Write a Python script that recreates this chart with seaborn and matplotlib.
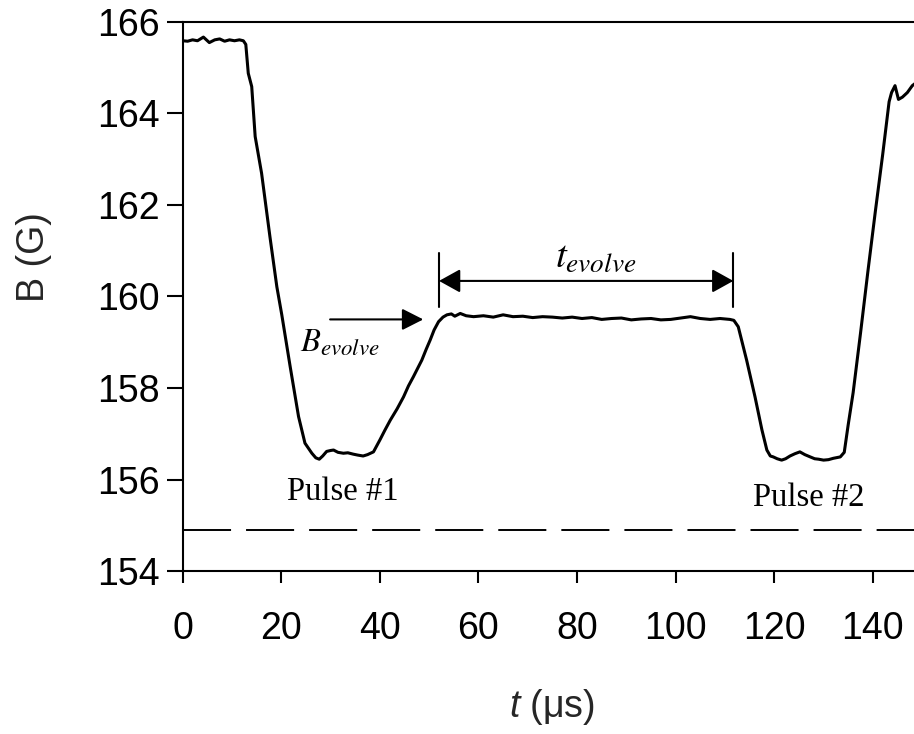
import numpy as np
import pandas as pd
import seaborn as sns
import matplotlib.pyplot as plt

# Measured magnetic field trace B(t)
t_us = [0.0, 1.0, 2.0, 3.0, 4.2, 5.4, 6.5, 7.5, 8.5, 9.5, 10.5, 11.5, 12.3, 12.8,
        13.3, 14.0, 14.7, 16.0, 17.7, 19.1, 20.1, 21.8, 23.5, 24.8, 26.2, 27.0,
        27.7, 28.4, 29.2, 30.0, 30.6, 31.5, 32.6, 33.5, 34.6, 35.5, 36.6, 37.5,
        38.7, 40.0, 41.0, 42.1, 43.5, 44.8, 45.8, 46.8, 47.6, 48.5, 49.4, 50.2,
        51.0, 51.9, 52.8, 53.6, 54.5, 55.2, 56.3, 57.5, 59.0, 61.0, 63.0, 65.0,
        67.0, 69.0, 71.0, 73.0, 75.0, 77.0, 79.0, 81.0, 83.0, 85.0, 87.0, 89.0,
        91.0, 93.0, 95.0, 97.0, 99.0, 101.0, 103.0, 105.0, 107.0, 109.0, 111.0,
        111.8, 112.7, 114.4, 116.1, 117.5, 118.5, 119.2, 119.8, 120.6, 121.5,
        122.3, 123.2, 124.2, 125.2, 126.2, 127.3, 128.2, 129.0, 130.0, 131.0,
        132.0, 133.4, 134.2, 135.0, 136.0, 137.5, 139.0, 140.5, 142.0, 143.3,
        143.8, 144.5, 145.2, 146.0, 147.0, 148.0, 148.6]
b_gauss = [165.58, 165.57, 165.60, 165.58, 165.66, 165.54, 165.60, 165.62, 165.57,
           165.60, 165.58, 165.60, 165.58, 165.50,
           164.87, 164.58, 163.49, 162.69, 161.30, 160.21, 159.60, 158.47, 157.38,
           156.80, 156.58, 156.48, 156.45, 156.52, 156.62, 156.64, 156.65, 156.60,
           156.58, 156.59, 156.56, 156.54, 156.52, 156.55, 156.61, 156.87, 157.08,
           157.30, 157.55, 157.81, 158.05, 158.25, 158.42, 158.61, 158.85, 159.05,
           159.27, 159.45, 159.55, 159.60, 159.62, 159.57, 159.63, 159.58, 159.56,
           159.58, 159.55, 159.60, 159.56, 159.57, 159.54, 159.56, 159.55, 159.53,
           159.55, 159.52, 159.54, 159.50, 159.52, 159.53, 159.49, 159.51, 159.52,
           159.49, 159.50, 159.53, 159.56, 159.52, 159.50, 159.52, 159.50,
           159.48, 159.34, 158.61, 157.81, 157.09, 156.65, 156.52, 156.50, 156.46,
           156.43, 156.46, 156.52, 156.57, 156.61, 156.55, 156.50, 156.46, 156.45,
           156.43, 156.44, 156.47, 156.50, 156.60, 157.20, 157.90, 159.20, 160.55,
           161.85, 163.10, 164.25, 164.45, 164.60, 164.30, 164.35, 164.45, 164.60,
           164.65]

baseline_b = 154.9            # dashed reference level
evolve_start, evolve_end = 52.0, 111.7
evolve_arrow_b = 160.34
marker_lo, marker_hi = 159.77, 160.95
b_arrow_level = 159.5
b_arrow_from, b_arrow_to = 29.9, 48.8

x_ticks = [0, 20, 40, 60, 80, 100, 120, 140]
y_ticks = [154, 156, 158, 160, 162, 164, 166]

sns.set_theme(style="ticks")
plt.rcParams["font.family"] = ["Liberation Sans", "DejaVu Sans"]
plt.rcParams["mathtext.fontset"] = "custom"
plt.rcParams["mathtext.it"] = "Liberation Sans:italic"
plt.rcParams["mathtext.rm"] = "Liberation Sans"

fig = plt.figure(figsize=(9.14, 7.34), dpi=100)
ax = fig.add_axes([0.1999, 0.2214, 0.809, 0.7493])

df = pd.DataFrame({"t": t_us, "B": b_gauss})
sns.lineplot(data=df, x="t", y="B", sort=False, estimator=None,
             color="black", linewidth=2.2, ax=ax)
ax.axhline(baseline_b, color="black", linewidth=1.4,
           linestyle=(0, (34.6 / 1.4, 10.8 / 1.4)))

ax.set_xlim(0, 150)
ax.set_ylim(154, 166)
ax.set_xticks(x_ticks)
ax.set_yticks(y_ticks)
for sp in ax.spines.values():
    sp.set_linewidth(1.5)
    sp.set_color("black")
ax.tick_params(axis="both", colors="black", labelsize=27, width=1.5)
ax.tick_params(axis="x", length=8.4, pad=20)
ax.tick_params(axis="y", length=11.3, pad=5)

ax.set_xlabel(r"$t$ (μs)", fontsize=27)
ax.xaxis.label.set_verticalalignment("baseline")
ax.xaxis.set_label_coords(0.5, (571.5 - 717) / 550)
ax.set_ylabel("B (G)", fontsize=27)
ax.yaxis.label.set_verticalalignment("center")
ax.yaxis.set_label_coords(-0.201, 0.572)

# t_evolve interval markers
for tm in (evolve_start, evolve_end):
    ax.plot([tm, tm], [marker_lo, marker_hi], color="black", linewidth=1.5)
ax.annotate("", xy=(evolve_start, evolve_arrow_b), xytext=(evolve_end, evolve_arrow_b),
            arrowprops=dict(arrowstyle="<|-|>,head_length=0.65,head_width=0.36",
                            mutation_scale=20, color="black", lw=1.5,
                            shrinkA=0, shrinkB=0))
ax.annotate("", xy=(b_arrow_to, b_arrow_level), xytext=(b_arrow_from, b_arrow_level),
            arrowprops=dict(arrowstyle="-|>,head_length=0.65,head_width=0.33",
                            mutation_scale=20, color="black", lw=1.5,
                            shrinkA=0, shrinkB=0))

ax.text(83.7, 160.65, r"$t_{evolve}$", fontsize=28, math_fontfamily="stix",
        ha="center", va="baseline", color="black")
ax.text(23.8, 158.83, r"$B_{evolve}$", fontsize=23.5, math_fontfamily="stix",
        ha="left", va="baseline", color="black")
ax.text(32.5, 155.56, "Pulse #1", fontsize=23.5, family="Liberation Serif",
        ha="center", va="baseline", color="black")
ax.text(126.9, 155.43, "Pulse #2", fontsize=23.5, family="Liberation Serif",
        ha="center", va="baseline", color="black")

fig.savefig("out.png", dpi=100)
